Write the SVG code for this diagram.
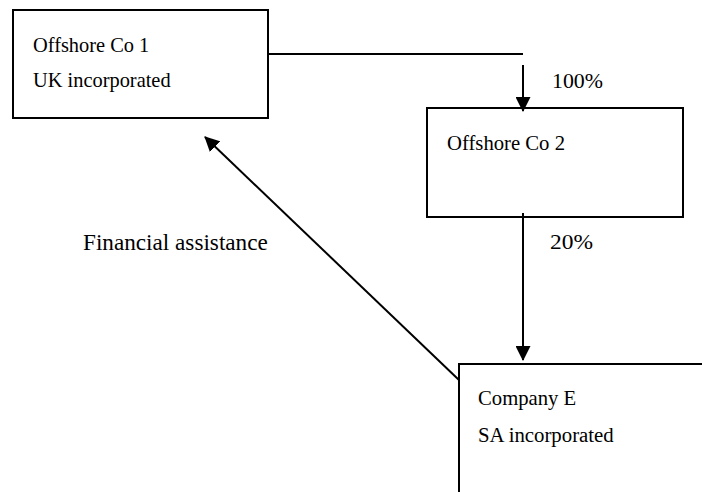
<svg xmlns="http://www.w3.org/2000/svg" width="702" height="492" viewBox="0 0 702 492">
<style>
.box{fill:#fff;stroke:#000;stroke-width:2}
.t{font-family:"Liberation Serif","Times New Roman",serif;font-size:20.4px;fill:#000}
.c{stroke:#000;stroke-width:2;fill:none}
</style>
<defs>
<marker id="ah" markerWidth="15" markerHeight="15" refX="14" refY="7.5" orient="auto" markerUnits="userSpaceOnUse" viewBox="0 0 15 15">
<path d="M0,0 L15,7.5 L0,15 z" fill="#000"/>
</marker>
</defs>
<rect width="702" height="492" fill="#fff"/>
<g id="offshore-co-1">
<rect class="box" x="13" y="10" width="255" height="108"/>
<text class="t" x="33" y="52">Offshore Co 1</text>
<text class="t" x="33" y="87">UK incorporated</text>
</g>
<g id="offshore-co-2">
<rect class="box" x="427" y="108" width="256" height="109"/>
<text class="t" x="447" y="150" style="font-size:20.7px">Offshore Co 2</text>
</g>
<g id="company-e">
<rect class="box" x="459" y="364" width="260" height="140"/>
<text class="t" x="478" y="405" style="font-size:20.7px">Company E</text>
<text class="t" x="478" y="442" style="font-size:20.8px">SA incorporated</text>
</g>
<g id="connectors">
<line class="c" x1="268" y1="54" x2="523" y2="54"/>
<line class="c" x1="523" y1="65" x2="523" y2="111" marker-end="url(#ah)"/>
<line class="c" x1="523" y1="213" x2="523" y2="360" marker-end="url(#ah)"/>
<line class="c" x1="459" y1="380" x2="205" y2="137" marker-end="url(#ah)"/>
<text class="t" x="552" y="88" style="font-size:21.5px" textLength="51" lengthAdjust="spacingAndGlyphs">100%</text>
<text class="t" x="550" y="249" style="font-size:21.5px" textLength="43" lengthAdjust="spacingAndGlyphs">20%</text>
<text class="t" x="83" y="250" style="font-size:23.2px">Financial assistance</text>
</g>
</svg>
